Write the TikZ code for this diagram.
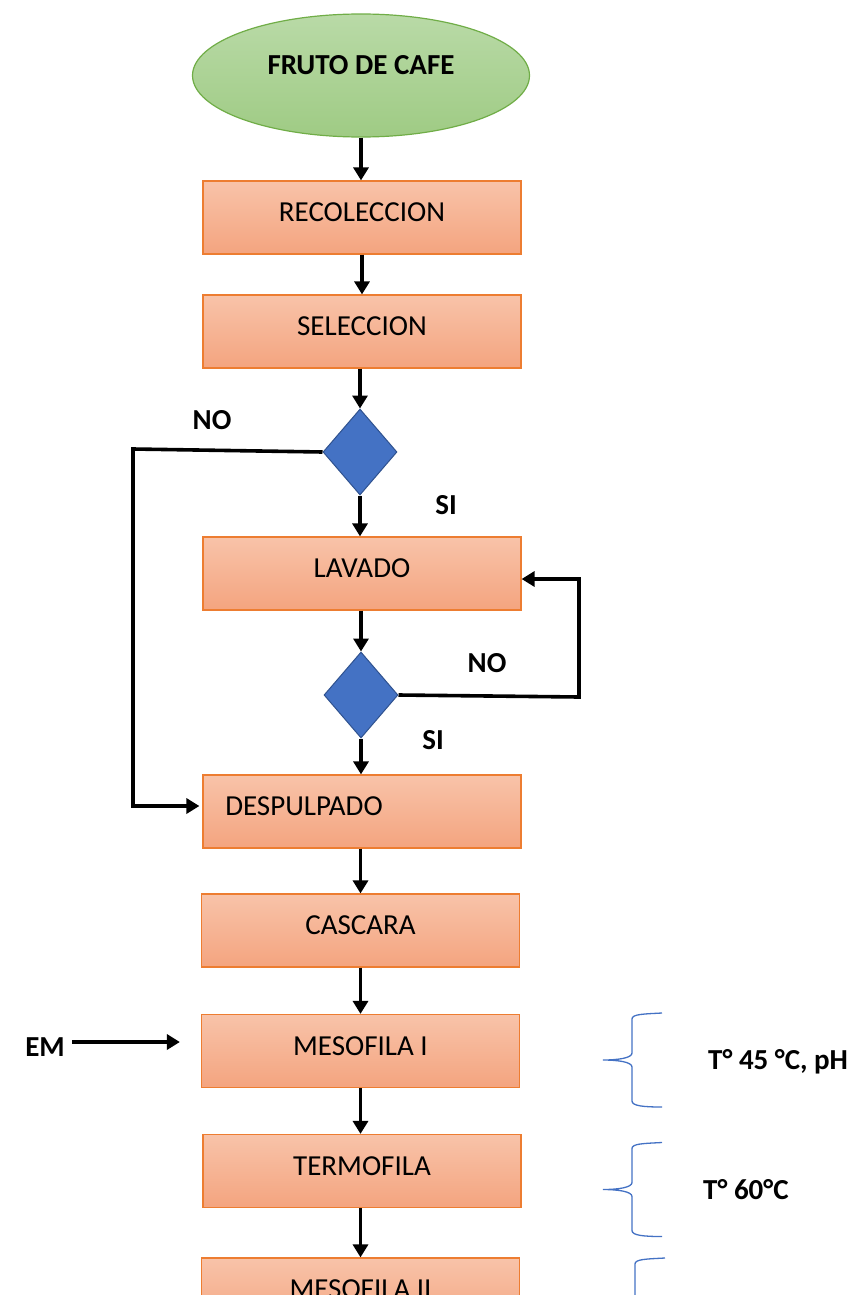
\documentclass[tikz,border=0pt]{standalone}
\usepackage{fontspec}
\setmainfont{Carlito}
\usetikzlibrary{shapes.geometric,arrows.meta}
\definecolor{boxtop}{HTML}{F8C3A9}
\definecolor{boxbot}{HTML}{F4A47F}
\definecolor{boxline}{HTML}{ED7D31}
\definecolor{elltop}{HTML}{B9DAA7}
\definecolor{ellbot}{HTML}{9FCB84}
\definecolor{ellline}{HTML}{70AD47}
\definecolor{diafill}{HTML}{4472C4}
\definecolor{dialine}{HTML}{2F528F}
\definecolor{bracecol}{HTML}{4472C4}
\begin{document}
\begin{tikzpicture}[x=1pt,y=-1pt,
  txt/.style={font=\fontsize{29}{34}\selectfont},
  btxt/.style={font=\bfseries\fontsize{29}{34}\selectfont, inner sep=0pt},
  procbox/.style={rectangle, draw=boxline, line width=1.2pt, top color=boxtop, bottom color=boxbot,
    minimum width=318pt, minimum height=73pt, inner sep=0pt, txt, text depth=10pt},
  startell/.style={ellipse, draw=ellline, line width=1.2pt, top color=elltop, bottom color=ellbot,
    minimum width=337pt, minimum height=123pt, inner sep=0pt, btxt, text depth=21pt},
  decision/.style={diamond, draw=dialine, line width=1pt, fill=diafill,
    minimum width=74pt, minimum height=86pt, inner sep=0pt},
  conn/.style={line width=3.6pt, black},
  arrowconn/.style={conn, -{Triangle[length=13pt,width=15pt]}},
  bracepath/.style={draw=bracecol, line width=1.3pt},
  lbrace/.pic={\path[bracepath] (30,-47) .. controls (12,-46) and (0,-46) .. (0,-41) -- (0,-7)
     .. controls (0,-2) and (-14,0) .. (-29,0) .. controls (-14,0) and (0,2) .. (0,7) -- (0,41)
     .. controls (0,46) and (12,47) .. (30,47);}
]
\useasboundingbox (0,0) rectangle (856,1295);
\clip (0,0) rectangle (856,1295);

% nodes
\node[startell] (fruto) at (361,75.5) {FRUTO DE CAFE};
\node[procbox] (rec) at (362,217.5) {RECOLECCION};
\node[procbox] (sel) at (362,331.5) {SELECCION};
\node[decision] (d1) at (360,452) {};
\node[procbox] (lav) at (362,573.5) {LAVADO};
\node[decision] (d2) at (361,695) {};
\node[procbox] (desp) at (362,811.5) {};
\node[txt, inner sep=0pt] (desptxt) at (304,806) {DESPULPADO};
\node[procbox] (casc) at (360.5,930.5) {CASCARA};
\node[procbox] (meso1) at (360.5,1051) {MESOFILA I};
\node[procbox] (termo) at (362,1171) {TERMOFILA};
\node[procbox] (meso2) at (360.5,1294.5) {MESOFILA II};

% labels
\node[btxt] (no1) at (212,420) {NO};
\node[btxt] (si1) at (446,505) {SI};
\node[btxt] (no2) at (487,663) {NO};
\node[btxt] (si2) at (433,740) {SI};
\node[btxt] (em) at (45,1047) {EM};
\node[btxt, anchor=base west] (cond1) at (708,1069.5) {T° 45 °C, pH};
\node[btxt, anchor=base west] (cond2) at (703,1199.5) {T° 60°C};

% braces
\pic at (632,1060) {lbrace};
\pic at (632,1189.5) {lbrace};
\pic at (635,1305) {lbrace};

% main flow
\draw[arrowconn] (fruto.south) -- (fruto.south |- rec.north);
\draw[arrowconn] (rec.south) -- (rec.south |- sel.north);
\draw[arrowconn] (sel.south -| d1.north) -- (d1.north);
\draw[arrowconn] (d1.south) -- (d1.south |- lav.north);
\draw[arrowconn] (lav.south -| d2.north) -- (d2.north);
\draw[arrowconn] (d2.south) -- (d2.south |- desp.north);
\draw[arrowconn] (casc.north |- desp.south) -- (casc.north);
\draw[arrowconn] (casc.south) -- (casc.south |- meso1.north);
\draw[arrowconn] (meso1.south) -- (meso1.south |- termo.north);
\draw[arrowconn] (meso2.north |- termo.south) -- (meso2.north);

% NO loops
\coordinate (l1a) at (133,449);
\coordinate (l1b) at (133,806);
\draw[arrowconn] (d1.west) -- (l1a) -- (l1b) -- ([xshift=-3pt]desp.west |- l1b);
\coordinate (r1a) at (579,697);
\coordinate (r1b) at (579,579);
\draw[arrowconn] (d2.east) -- (r1a) -- (r1b) -- (lav.east |- r1b);

% EM input
\coordinate (emstart) at (72,1042);
\draw[arrowconn, shorten >=21pt] (emstart) -- (emstart -| meso1.west);
\end{tikzpicture}
\end{document}
